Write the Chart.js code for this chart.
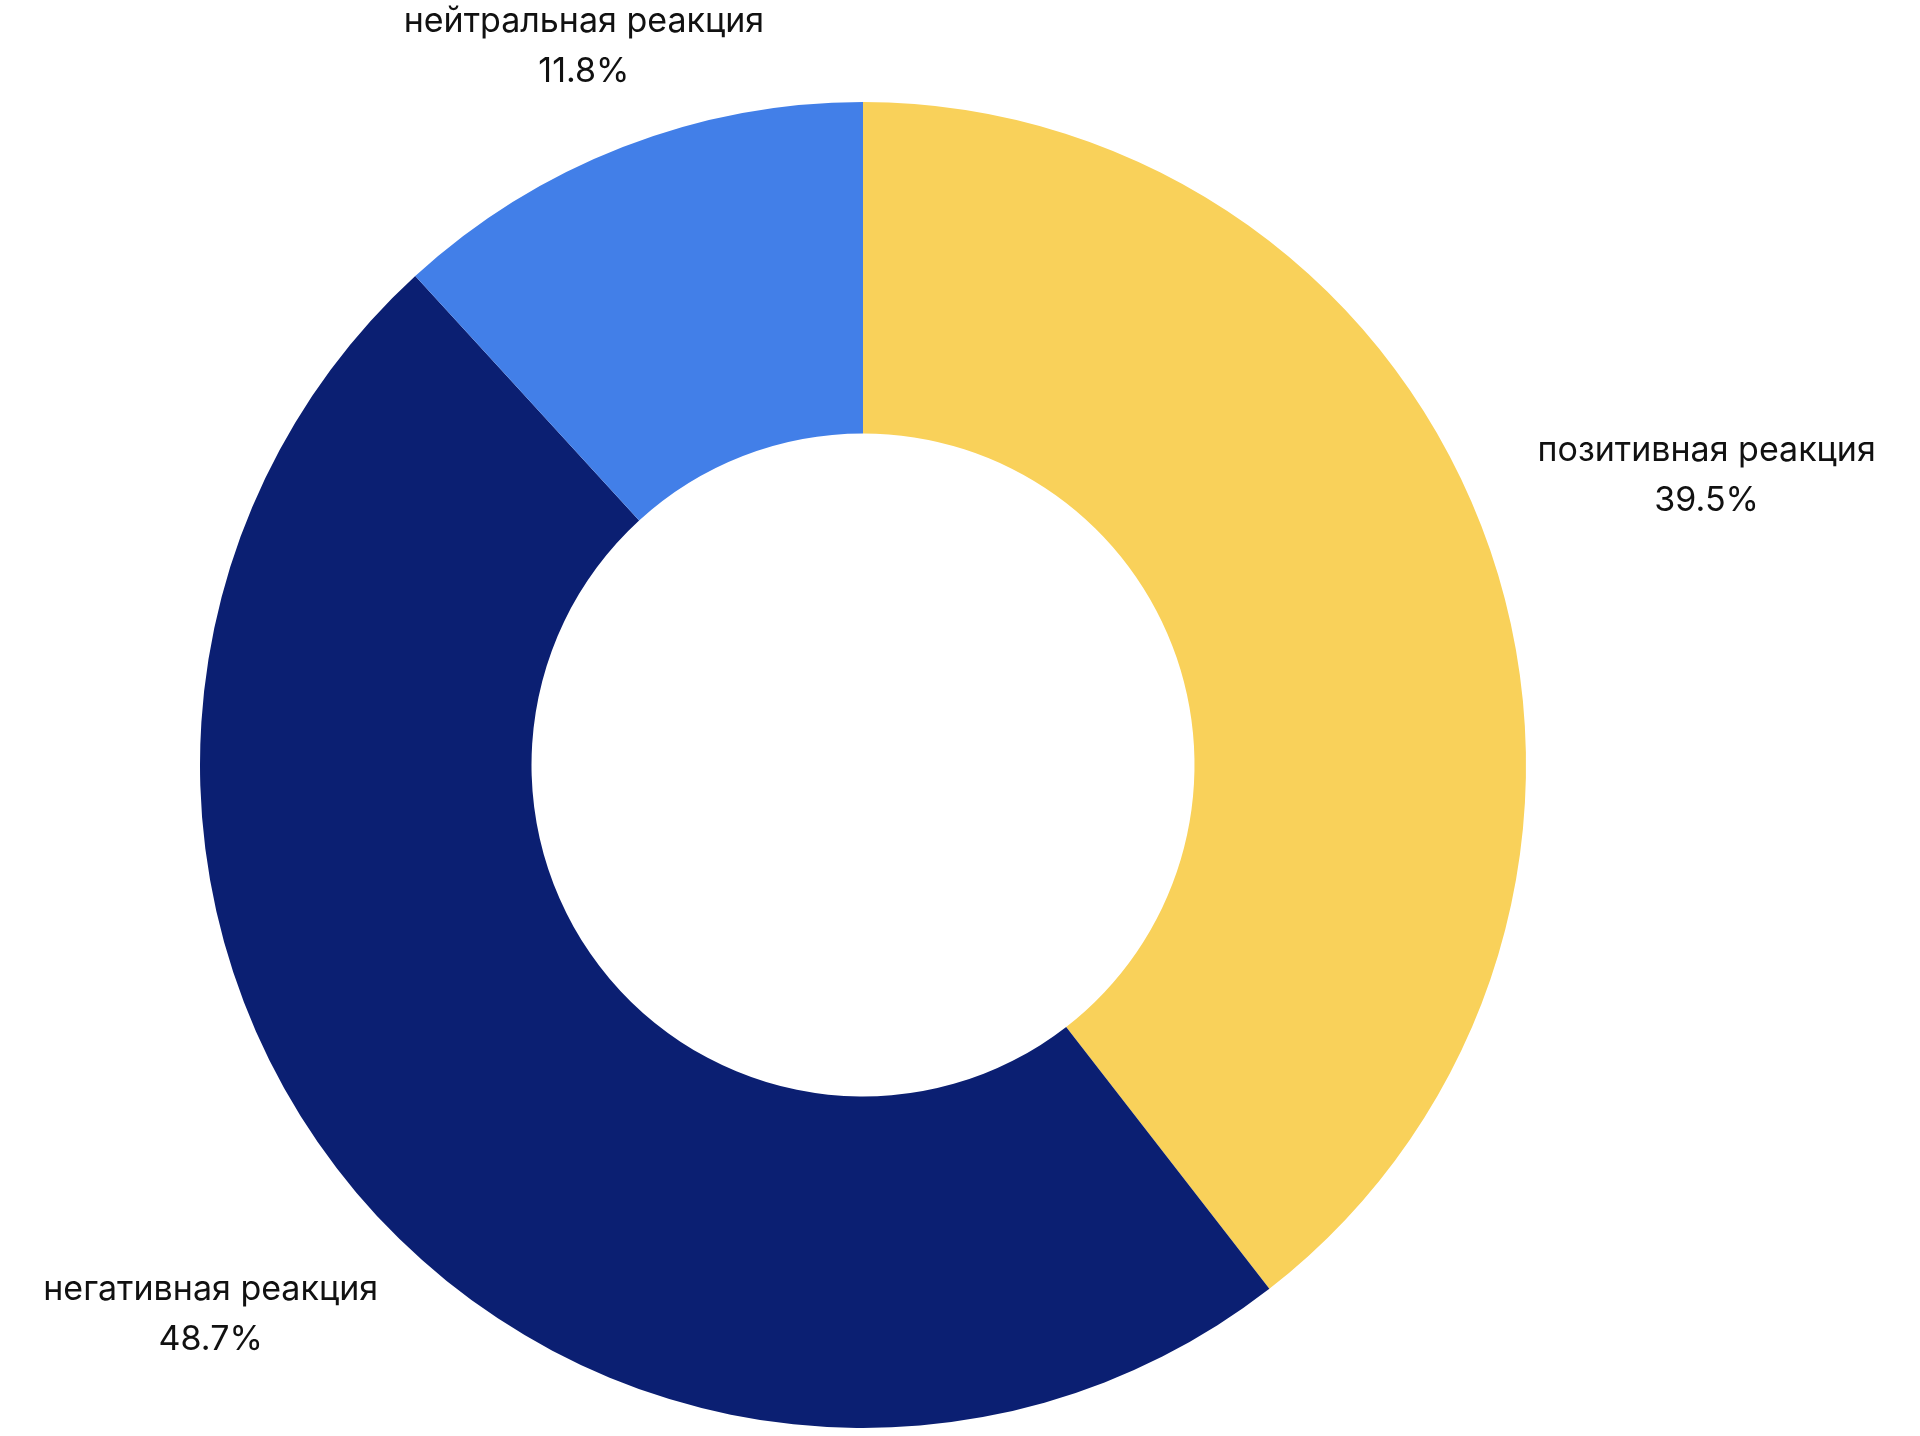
<!DOCTYPE html>
<html><head><meta charset="utf-8">
<script src="https://cdn.jsdelivr.net/npm/chart.js@4"></script>
<style>html,body{margin:0;padding:0;background:#fff}</style>
</head><body>
<canvas id="c" width="1920" height="1436"></canvas>
<script>
const categories = ["позитивная реакция", "негативная реакция", "нейтральная реакция"];
const values = [39.5, 48.7, 11.8];
const colors = ["#F9D15A", "#0B1F72", "#427FE8"];
const labelRadius = [1.345, 1.287, 1.162];

const labelPlugin = {
  id: 'outLabels',
  afterDraw(chart) {
    const ctx = chart.ctx;
    const meta = chart.getDatasetMeta(0);
    ctx.save();
    ctx.font = '34px Inter, "Open Sans", sans-serif';
    ctx.fillStyle = '#111';
    ctx.textAlign = 'center';
    ctx.textBaseline = 'middle';
    meta.data.forEach((arc, i) => {
      const mid = (arc.startAngle + arc.endAngle) / 2;
      const r = arc.outerRadius * labelRadius[i];
      const x = arc.x + Math.cos(mid) * r;
      const y = arc.y + Math.sin(mid) * r;
      ctx.fillText(categories[i], x, y - 25);
      ctx.fillText(values[i].toFixed(1) + '%', x, y + 25);
    });
    ctx.restore();
  }
};

new Chart(document.getElementById('c'), {
  type: 'doughnut',
  data: { labels: categories, datasets: [{ data: values, backgroundColor: colors, borderWidth: 0 }] },
  options: {
    responsive: false, animation: false, cutout: '50%',
    layout: { padding: { left: 200, right: 394, top: 102, bottom: 8 } },
    plugins: { legend: { display: false }, tooltip: { enabled: false } }
  },
  plugins: [labelPlugin]
});
</script>
</body></html>
